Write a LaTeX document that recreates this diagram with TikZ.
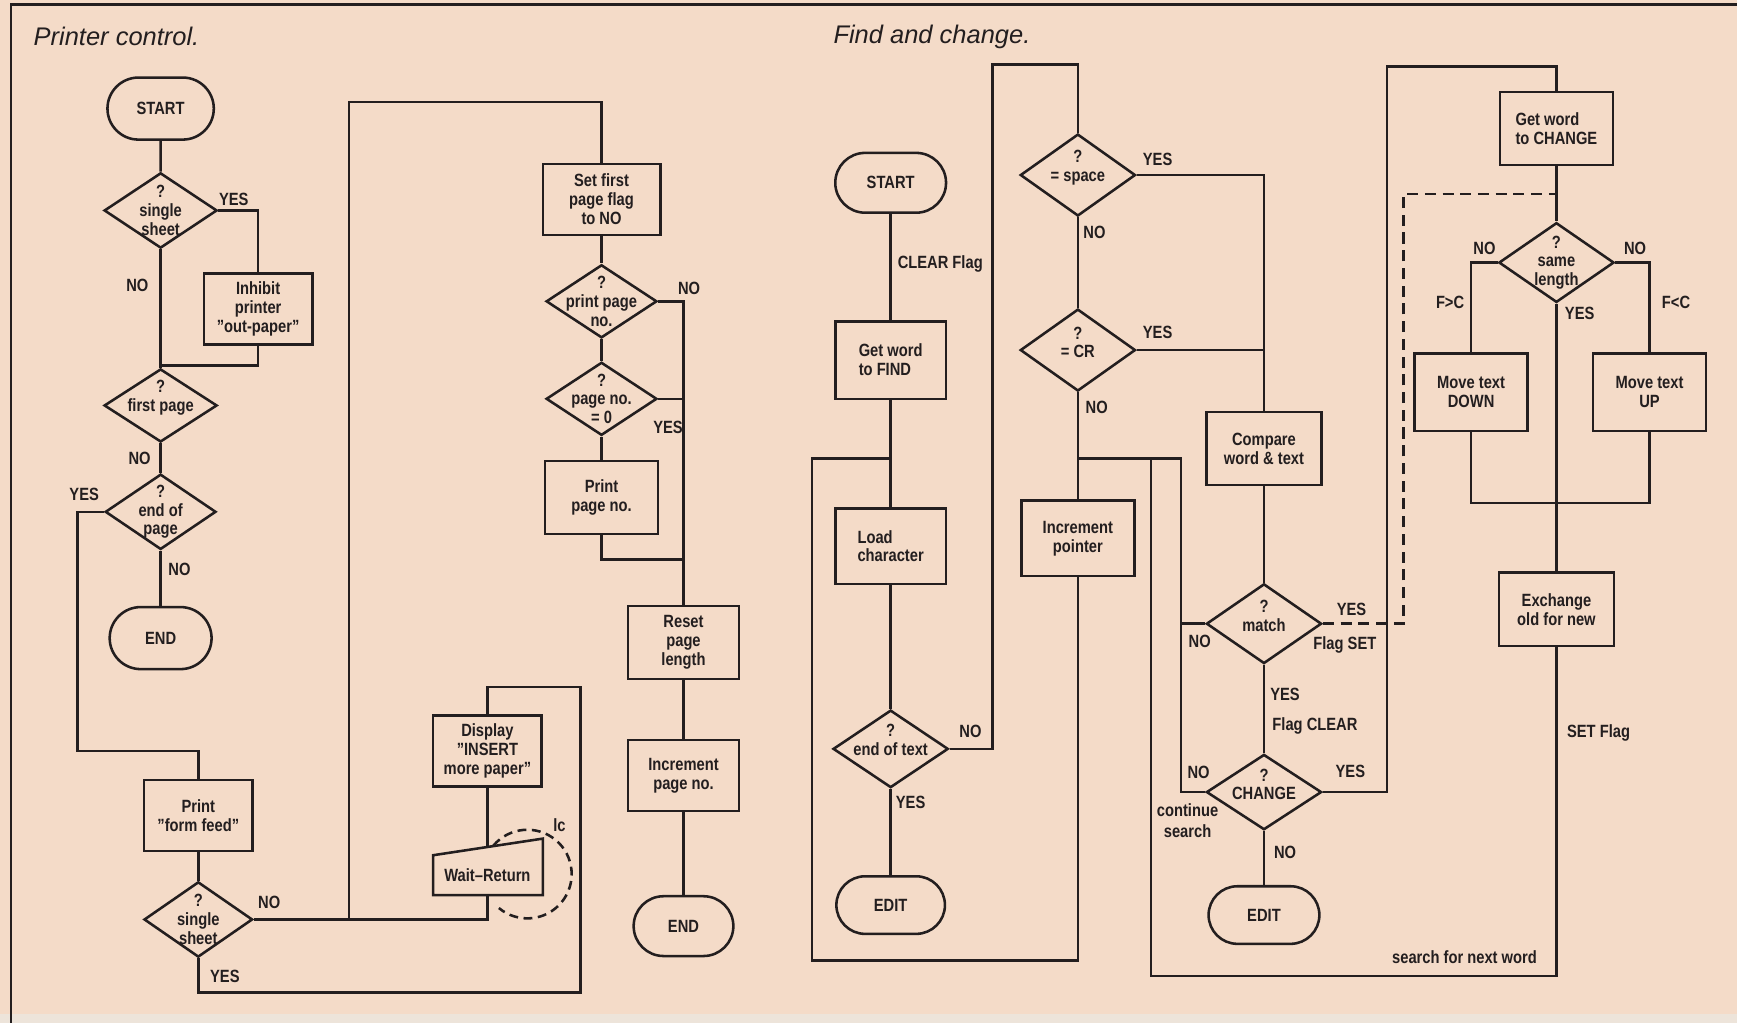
\documentclass[tikz,border=0pt]{standalone}
\usepackage{fontspec}
\setmainfont{Liberation Sans}[FakeStretch=0.83]
\newfontfamily\titlefont{Liberation Sans}
\usetikzlibrary{shapes.geometric,shapes.misc}
\definecolor{paper}{HTML}{F4DBC8}
\definecolor{ink}{HTML}{231E1F}
\definecolor{edge}{HTML}{EDE4DA}
\newcommand{\labfont}{\fontsize{8}{8.5}\selectfont\bfseries}
\tikzset{
  ln/.style={draw=ink, line width=1.15pt},
  dline/.style={draw=ink, line width=1.15pt, dash pattern=on 5pt off 3pt},
  pbox/.style={draw=ink, line width=1.15pt, rectangle, align=center, inner sep=1pt, font=\labfont, text=ink},
  lbox/.style={pbox, align=left},
  term/.style={draw=ink, line width=1.15pt, rounded rectangle, inner sep=1pt, font=\labfont, text=ink},
  dia/.style={draw=ink, line width=1.15pt, diamond, inner sep=0pt},
  txt/.style={align=center, inner sep=0pt, font=\labfont, text=ink},
  lbl/.style={inner sep=0pt, font=\labfont, text=ink},
  ttl/.style={inner sep=0pt, anchor=west, font=\titlefont\itshape\fontsize{11.5}{13}\selectfont, text=ink},
}
\begin{document}
\begin{tikzpicture}[x=0.5pt,y=-0.5pt]
\fill[paper] (0,0) rectangle (1568,923);
\useasboundingbox (0,0) rectangle (1568,923);
\fill[edge] (0,915) rectangle (1568,923);
% frame
\draw[ink, line width=1.2pt] (10,923) -- (10,4) -- (1568,4);

% ================= Printer control =================
\node[ttl] (ttl1) at (30,33) {Printer control.};

\node[term, minimum width=50pt, minimum height=28pt] (pstart) at (145,98) {START};
\node[dia, minimum width=51pt, minimum height=34pt] (pss1) at (145,190) {};
\node[txt] (pss1t) at (145,190) {?\\single\\sheet};
\node[pbox, minimum width=49pt, minimum height=32pt] (pinh) at (233,279) {Inhibit\\printer\\''out-paper''};
\coordinate (pj1) at (145,330);
\node[dia, minimum width=51pt, minimum height=33pt] (pfirst) at (145,366) {};
\node[txt] (pfirstt) at (145,359) {?\\first page};
\node[dia, minimum width=50pt, minimum height=34pt] (peop) at (145,462) {};
\node[txt] (peopt) at (145,462) {?\\end of\\page};
\node[term, minimum width=48pt, minimum height=28pt] (pend1) at (145,576) {END};
\coordinate (pl1) at (70,678);
\node[pbox, minimum width=49pt, minimum height=32pt] (pff) at (179,736) {Print\\''form feed''};
\node[dia, minimum width=49pt, minimum height=34pt] (pss2) at (179,830) {};
\node[txt] (pss2t) at (179,830) {?\\single\\sheet};
\coordinate (pb1) at (524,896);
\coordinate (pb2) at (440,620);
\node[pbox, minimum width=49pt, minimum height=32pt] (pdisp) at (440,678) {Display\\''INSERT\\more paper''};
% Wait-Return (manual input shape)
\draw[ln] (391,772) -- (490,757) -- (490,808) -- (391,808) -- cycle;
\node[txt] (pwait) at (440,790) {Wait--Return};
\coordinate (pwtop) at (440,764.6);
\coordinate (pwbot) at (440,808);
\draw[dline, dash pattern=on 4pt off 2.5pt] (445.4,763.3) arc[start angle=140, end angle=-130, radius=20pt];
\coordinate (pj2) at (315,830);
\coordinate (pt1) at (315,92);
\node[pbox, minimum width=53pt, minimum height=32pt] (pset) at (543,180) {Set first\\page flag\\to NO};
\node[dia, minimum width=50pt, minimum height=33pt] (pprint) at (543,272) {};
\node[txt] (pprintt) at (543,272) {?\\print page\\no.};
\node[dia, minimum width=50pt, minimum height=33pt] (pz) at (543,360) {};
\node[txt] (pzt) at (543,360) {?\\page no.\\= 0};
\node[pbox, minimum width=51pt, minimum height=33pt] (pprn) at (543,449) {Print\\page no.};
\coordinate (pj3) at (617,505);
\node[pbox, minimum width=50pt, minimum height=33pt] (preset) at (617,580) {Reset\\page\\length};
\node[pbox, minimum width=50pt, minimum height=32pt] (pinc) at (617,700) {Increment\\page no.};
\node[term, minimum width=47pt, minimum height=27pt] (pend2) at (617,836) {END};

% connectors
\draw[ln] (pstart) -- (pss1);
\draw[ln] (pss1.east) -| (pinh.north);
\draw[ln] (pinh.south) |- (pj1);
\draw[ln] (pss1.south) -- (pfirst.north);
\draw[ln] (pfirst.south) -- (peop.north);
\draw[ln] (peop.south) -- (pend1.north);
\draw[ln] (peop.west) -| (pl1) -| (pff.north);
\draw[ln] (pff.south) -- (pss2.north);
\draw[ln] (pss2.south) |- (pb1) |- (pb2) -- (pdisp.north);
\draw[ln] (pdisp.south) -- (pwtop);
\draw[ln] (pss2.east) -| (pwbot);
\draw[ln] (pj2) -- (pt1) -| (pset.north);
\draw[ln] (pset.south) -- (pprint.north);
\draw[ln] (pprint.south) -- (pz.north);
\draw[ln] (pz.south) -- (pprn.north);
\draw[ln] (pprint.east) -| (preset.north);
\draw[ln] (pz.east) -- (pz.east -| preset.north);
\draw[ln] (pprn.south) |- (pj3);
\draw[ln] (preset.south) -- (pinc.north);
\draw[ln] (pinc.south) -- (pend2.north);

% labels
\node[lbl] (l1) at (211,180) {YES};
\node[lbl] (l2) at (124,258) {NO};
\node[lbl] (l3) at (126,414) {NO};
\node[lbl] (l4) at (76,446) {YES};
\node[lbl] (l5) at (162,514) {NO};
\node[lbl] (l6) at (243,815) {NO};
\node[lbl] (l7) at (203,881) {YES};
\node[lbl] (l8) at (622,260) {NO};
\node[lbl] (l9) at (603,386) {YES};
\node[lbl] (l10) at (505,745) {lc};

% ================= Find and change =================
\node[ttl] (ttl2) at (752,33) {Find and change.};

\node[term, minimum width=52pt, minimum height=27pt] (fstart) at (804,165) {START};
\node[lbox, minimum width=50pt, minimum height=35pt] (fget) at (804,325) {Get word\\to FIND};
\coordinate (fl2) at (804,414);
\node[lbox, minimum width=50pt, minimum height=34pt] (fload) at (804,493) {Load\\character};
\node[dia, minimum width=52pt, minimum height=35pt] (feot) at (804,676) {};
\node[txt] (feott) at (804,668) {?\\end of text};
\node[term, minimum width=51pt, minimum height=26pt] (fedit1) at (804,817) {EDIT};
\coordinate (fl1) at (733,867);
\coordinate (fl3) at (896,58);
\node[dia, minimum width=52pt, minimum height=37pt] (fspace) at (973,158) {};
\node[txt] (fspacet) at (973,151) {?\\= space};
\node[dia, minimum width=52pt, minimum height=37pt] (fcr) at (973,316) {};
\node[txt] (fcrt) at (973,309) {?\\= CR};
\coordinate (fj1) at (973,414);
\coordinate (fj2) at (1066,414);
\coordinate (fj3) at (1039,414);
\coordinate (fb2) at (1039,881);
\node[pbox, minimum width=51pt, minimum height=34pt] (finc) at (973,486) {Increment\\pointer};
\node[pbox, minimum width=52pt, minimum height=33pt] (fcomp) at (1141,405) {Compare\\word \& text};
\node[dia, minimum width=52pt, minimum height=36pt] (fmatch) at (1141,563) {};
\node[txt] (fmatcht) at (1141,556) {?\\match};
\node[dia, minimum width=52pt, minimum height=34pt] (fchange) at (1141,715) {};
\node[txt] (fchanget) at (1141,708) {?\\CHANGE};
\node[term, minimum width=52pt, minimum height=26pt] (fedit2) at (1141,826) {EDIT};
\coordinate (fr1) at (1252,60);
\coordinate (fd1) at (1267,175);
\coordinate (fd2) at (1405,175);
\node[lbox, minimum width=51pt, minimum height=33pt] (fgetc) at (1405,116) {Get word\\to CHANGE};
\node[dia, minimum width=52pt, minimum height=36pt] (fsame) at (1405,237) {};
\node[txt] (fsamet) at (1405,237) {?\\same\\length};
\node[pbox, minimum width=51pt, minimum height=35pt] (fdown) at (1328,354) {Move text\\DOWN};
\node[pbox, minimum width=51pt, minimum height=35pt] (fup) at (1489,354) {Move text\\UP};
\coordinate (fj5) at (1405,454);
\node[pbox, minimum width=52pt, minimum height=33pt] (fexch) at (1405,550) {Exchange\\old for new};

% connectors
\draw[ln] (fstart.south) -- (fget.north);
\draw[ln] (fget.south) -- (fload.north);
\draw[ln] (fload.south) -- (feot.north);
\draw[ln] (feot.south) -- (fedit1.north);
\draw[ln] (finc.south) |- (fl1) |- (fl2);
\draw[ln] (feot.east) -| (fl3) -| (fspace.north);
\draw[ln] (fspace.south) -- (fcr.north);
\draw[ln] (fspace.east) -| (fcomp.north);
\draw[ln] (fcr.east) -- (fcr.east -| fcomp.north);
\draw[ln] (fcr.south) -- (finc.north);
\draw[ln] (fj1) -- (fj2) |- (fchange.west);
\draw[ln] (fmatch.west) -- (fmatch.west -| fj2);
\draw[ln] (fexch.south) |- (fb2) -- (fj3);
\draw[ln] (fcomp.south) -- (fmatch.north);
\draw[ln] (fmatch.south) -- (fchange.north);
\draw[ln] (fchange.south) -- (fedit2.north);
\draw[ln] (fchange.east) -| (fr1) -| (fgetc.north);
\draw[dline] (fmatch.east) -| (fd1) -- (fd2);
\draw[ln] (fgetc.south) -- (fsame.north);
\draw[ln] (fsame.west) -| (fdown.north);
\draw[ln] (fsame.east) -| (fup.north);
\draw[ln] (fdown.south) |- (fj5) -| (fup.south);
\draw[ln] (fsame.south) -- (fexch.north);

% labels
\node[lbl, anchor=west] (m1) at (810,238) {CLEAR Flag};
\node[lbl] (m2) at (1045,144) {YES};
\node[lbl] (m3) at (988,210) {NO};
\node[lbl] (m4) at (1045,300) {YES};
\node[lbl] (m5) at (990,368) {NO};
\node[lbl] (m6) at (876,660) {NO};
\node[lbl] (m7) at (822,724) {YES};
\node[lbl] (m8) at (1083,579) {NO};
\node[lbl] (m9) at (1220,550) {YES};
\node[lbl] (m10) at (1214,582) {Flag SET};
\node[lbl] (m11) at (1160,627) {YES};
\node[lbl] (m12) at (1187,655) {Flag CLEAR};
\node[lbl] (m13) at (1082,697) {NO};
\node[lbl] (m14) at (1219,696) {YES};
\node[lbl, align=center, font=\fontsize{8}{9.5}\selectfont\bfseries] (m15) at (1072,741) {continue\\search};
\node[lbl] (m16) at (1160,769) {NO};
\node[lbl] (m17) at (1340,224) {NO};
\node[lbl] (m18) at (1476,224) {NO};
\node[lbl] (m19) at (1309,273) {F>C};
\node[lbl] (m20) at (1513,273) {F<C};
\node[lbl] (m21) at (1426,283) {YES};
\node[lbl] (m22) at (1443,662) {SET Flag};
\node[lbl] (m23) at (1322,864) {search for next word};
\end{tikzpicture}
\end{document}
